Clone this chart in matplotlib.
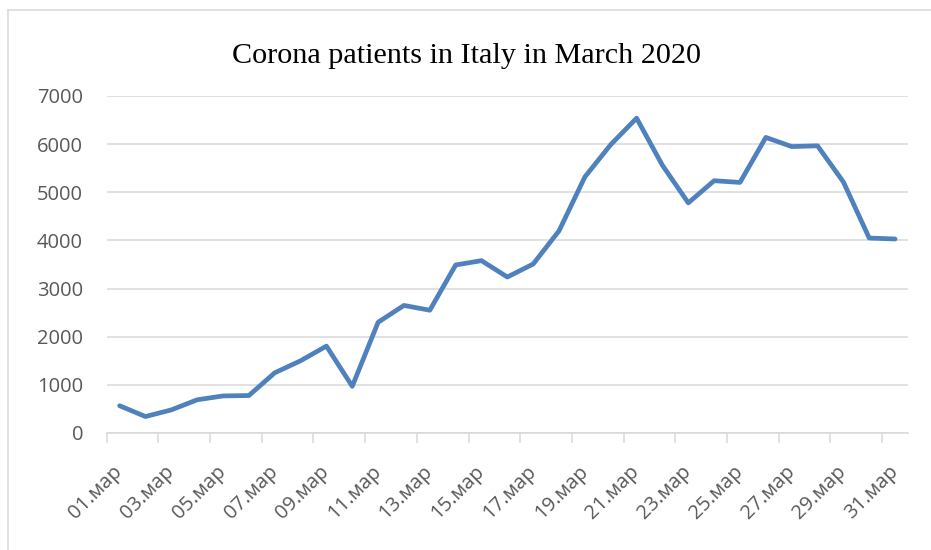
import matplotlib
matplotlib.use("Agg")
import matplotlib.pyplot as plt
from matplotlib.lines import Line2D
from matplotlib.transforms import ScaledTranslation

days = [f"{d:02d}.мар" for d in range(1, 32)]
cases = [566, 342, 480, 690, 770, 778, 1250, 1500, 1805, 970,
         2300, 2650, 2550, 3490, 3580, 3240, 3510, 4200, 5320, 5990,
         6540, 5560, 4780, 5240, 5205, 6140, 5950, 5965, 5215, 4050, 4030]
title = "Corona patients in Italy in March 2020"
y_ticks = [0, 1000, 2000, 3000, 4000, 5000, 6000, 7000]

W, H = 931, 550
fig = plt.figure(figsize=(W / 100, H / 100), dpi=100)
ax = fig.add_axes([106.7 / W, 1 - 433 / H, (908 - 106.7) / W, (433 - 96) / H])

x = list(range(len(days)))
ax.plot(x, cases, color="#4f81bd", lw=3.4, solid_joinstyle="round", solid_capstyle="round", zorder=3)

ax.set_xlim(-0.5, len(days) - 0.5)
ax.set_ylim(0, 7000)
ax.set_yticks(y_ticks)
ax.set_yticklabels([str(v) for v in y_ticks], fontsize=14.5, color="#595959", family=["Open Sans", "DejaVu Sans"])
ax.tick_params(axis="y", length=0, pad=17)
ax.grid(axis="y", color="#d9d9d9", lw=1.1, zorder=0)

ax.set_xticks(x[::2])
labels = ax.set_xticklabels(days[::2], rotation=45, ha="right", va="center", rotation_mode="anchor",
                            fontsize=14.5, color="#595959", family=["Open Sans", "DejaVu Sans"])
off = ScaledTranslation(5 / 100, 0, fig.dpi_scale_trans)
for lab in labels:
    lab.set_transform(lab.get_transform() + off)
ax.set_xticks([i - 0.5 for i in range(0, len(days), 2)], minor=True)
ax.tick_params(axis="x", which="major", length=0, pad=26)
ax.tick_params(axis="x", which="minor", length=7, width=1.1, color="#d9d9d9")

for s in ["top", "right", "left"]:
    ax.spines[s].set_visible(False)
ax.spines["bottom"].set_color("#d9d9d9")
ax.spines["bottom"].set_linewidth(1.1)

fig.text(466.5 / W, 1 - 63 / H, title, ha="center", va="baseline", fontsize=21.7,
         family=["Liberation Serif", "DejaVu Serif"], color="black")

# chart-area border (top and left visible)
fig.add_artist(Line2D([8 / W, 1], [1 - 9.5 / H] * 2, transform=fig.transFigure, color="#d9d9d9", lw=1.1))
fig.add_artist(Line2D([8 / W] * 2, [0, 1 - 9.5 / H], transform=fig.transFigure, color="#d9d9d9", lw=1.1))

fig.savefig("out.png", dpi=100)
